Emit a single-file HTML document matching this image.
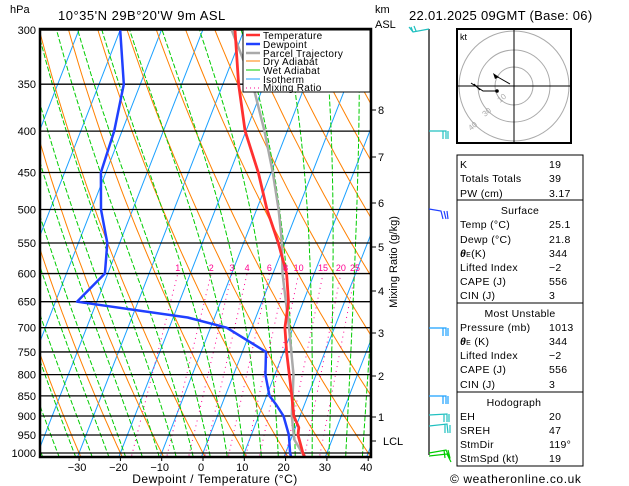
<!DOCTYPE html>
<html><head><meta charset="utf-8"><style>
body{margin:0;background:#fff;}
svg{display:block;font-family:"Liberation Sans",sans-serif;}
</style></head><body>
<svg id="c" width="629" height="486" viewBox="0 0 629 486" xmlns="http://www.w3.org/2000/svg">
<defs><clipPath id="plotclip"><rect x="40" y="29" width="331" height="428"/></clipPath></defs>
<g id="grid" clip-path="url(#plotclip)"></g>
<g id="series" clip-path="url(#plotclip)"></g>
<g id="axes"></g>
</svg>
<script>
const pressureTicks=[300,350,400,450,500,550,600,650,700,750,800,850,900,950,1000];
const tempTicks=[-30,-20,-10,0,10,20,30,40];
const tempP=[1013,1000,950,930,900,850,800,750,700,650,600,550,500,450,400,350,300];
const tempT=[25.1,24.2,21.3,20.8,18.5,16.1,13.5,10.7,8.0,6.4,3.3,-1.6,-7.5,-13.1,-20.2,-26.2,-32.2];
const dewP=[1013,1000,950,900,870,850,800,750,700,680,650,600,550,500,450,400,350,300];
const dewT=[21.8,21.1,19.1,16.0,13.0,10.7,7.7,5.7,-6.1,-16.5,-44.8,-40.7,-43,-47.7,-51.2,-51.9,-54,-60];
const parcelP=[1013,962,900,850,800,700,600,550,500,450,400,350,300];
const parcelT=[25.1,20.8,18.0,16.3,14.5,9.0,2.3,-0.7,-4.7,-9.6,-15.5,-22.8,-33];
const mixRatios=[1,2,3,4,6,8,10,15,20,25];
const kmLabels=["8","7","6","5","4","3","2","1","LCL"];
const kmY=[110,157,203,247,291,333,376,417,441];

const NS="http://www.w3.org/2000/svg";
function yP(p){return 453-351.3*Math.log(1000/p);}
function xT(t,p){return 203+4.13*t+0.39*(453-yP(p));}
function mk(tag,attrs,parent){const e=document.createElementNS(NS,tag);for(const k in attrs)e.setAttribute(k,attrs[k]);parent.appendChild(e);return e;}
const svg=document.getElementById('c');
const grid=document.getElementById('grid'),ser=document.getElementById('series'),ax=document.getElementById('axes');
function poly(pts,st,parent){return mk('polyline',{points:pts.map(q=>q[0].toFixed(1)+','+q[1].toFixed(1)).join(' '),fill:'none',...st},parent);}

// isotherms
for(let t=-110;t<=40;t+=10){
  const l=poly([[xT(t,1050),yP(1050)],[xT(t,280),yP(280)]],{stroke:'#1aa0ff','stroke-width':1},grid);
  
  
}
// dry adiabats
for(let t0=-60;t0<=160;t0+=10){
  const th=t0+273.15,pts=[];
  for(let p=1050;p>=280;p-=10){pts.push([xT(th*Math.pow(p/1000,0.286)-273.15,p),yP(p)]);}
  const l=poly(pts,{stroke:'#ff8000','stroke-width':1},grid);
  
  
}
// moist adiabats
function es(tc){return 6.112*Math.exp(17.67*tc/(tc+243.5));}
function moist(t0,pStart,pEnd){let T=t0+273.15,pts=[];for(let p=pStart;p>=pEnd;p-=2){pts.push([xT(T-273.15,p),yP(p)]);const e=es(T-273.15),rs=0.622*e/(p-e);const dTdp=(287*T+2.5e6*rs)/(p*(1004+2.5e6*2.5e6*rs*0.622/(287*T*T)));T-=dTdp*2;}return pts;}
for(let t0=-40;t0<=40;t0+=4){
  const l=poly(moist(t0,1050,280),{stroke:'#00cc00','stroke-width':1,'stroke-dasharray':'5,2'},grid);
  
  
}
// mixing ratio lines
function tdw(w,p){const e=w*p/(622+w),l=Math.log(e/6.112);return 243.5*l/(17.67-l);}
mixRatios.forEach(w=>{
  const l=poly([[xT(tdw(w,1050),1050),yP(1050)],[xT(tdw(w,600),600),yP(600)]],{stroke:'#ff0090','stroke-width':1,'stroke-dasharray':'1,4'},grid);
  
  
  const tx=mk('text',{x:xT(tdw(w,600),600),y:271,'font-size':9,fill:'#ff0090','text-anchor':'middle'},ax);tx.textContent=w;
  
  
});
// isobars
pressureTicks.forEach(p=>{
  const l=mk('line',{x1:40,x2:371,y1:yP(p),y2:yP(p),stroke:'#000','stroke-width':1.3},grid);
  
  
  const t=mk('text',{x:36,y:yP(p)+4,'font-size':11,'text-anchor':'end',fill:'#000'},ax);t.textContent=p;
  
  
});
// series
function series(P,T,color,w,name){
  const l=poly(P.map((p,i)=>[xT(T[i],p),yP(p)]),{stroke:color,'stroke-width':w,'stroke-linejoin':'round'},ser);
  
  
}
series(parcelP,parcelT,'#aaaaaa',2.5,'parcel-trajectory');
series(tempP,tempT,'#ff3030',2.8,'temperature-line');
series(dewP,dewT,'#2040ff',2.5,'dewpoint-line');

// frame
const fr=mk('rect',{x:40,y:29,width:331,height:428,fill:'none',stroke:'#000','stroke-width':2.5},ax);

// temp ticks
tempTicks.forEach(t=>{
  const x=203+4.13*t;
  mk('line',{x1:x,x2:x,y1:457,y2:461,stroke:'#000'},ax);
  const tx=mk('text',{x:x-2,y:471,'font-size':11,'text-anchor':'middle'},ax);tx.textContent=(t<0?'\u2212'+(-t):t);
  
  
});
// km ticks
kmLabels.forEach((k,i)=>{
  mk('line',{x1:371,x2:376,y1:kmY[i],y2:kmY[i],stroke:'#000'},ax);
  const tx=mk('text',{x:k==='LCL'?383:378,y:kmY[i]+4,'font-size':11},ax);tx.textContent=k;
  
  
});
</script>
<svg width="629" height="486" style="position:absolute;left:0;top:0" font-family="Liberation Sans, sans-serif">
  <text x="10" y="13" font-size="11">hPa</text>
  <text x="58" y="20" font-size="13" letter-spacing="0.5">10°35'N  29B°20'W  9m  ASL</text>
  <text x="375" y="13" font-size="11">km</text>
  <text x="375" y="28" font-size="11">ASL</text>
  <text x="409" y="20" font-size="13" letter-spacing="0.3">22.01.2025  09GMT  (Base: 06)</text>
  <text x="215" y="483" font-size="12" text-anchor="middle" letter-spacing="0.5">Dewpoint / Temperature (°C)</text>
  <text transform="translate(397,262) rotate(-90)" font-size="11" text-anchor="middle">Mixing Ratio (g/kg)</text>
  <g>
    <rect x="243" y="30" width="127" height="62" fill="#fff" stroke="#000" stroke-width="1"/>
    <g font-size="10" letter-spacing="0.3">
      <line x1="246" y1="35" x2="260" y2="35" stroke="#ff3030" stroke-width="2.5"/><text x="263" y="39">Temperature</text>
      <line x1="246" y1="44" x2="260" y2="44" stroke="#2040ff" stroke-width="2.5"/><text x="263" y="48">Dewpoint</text>
      <line x1="246" y1="53" x2="260" y2="53" stroke="#aaa" stroke-width="2.5"/><text x="263" y="57">Parcel Trajectory</text>
      <line x1="246" y1="61" x2="260" y2="61" stroke="#ff8000"/><text x="263" y="65">Dry Adiabat</text>
      <line x1="246" y1="70" x2="260" y2="70" stroke="#00cc00"/><text x="263" y="74">Wet Adiabat</text>
      <line x1="246" y1="79" x2="260" y2="79" stroke="#1aa0ff"/><text x="263" y="83">Isotherm</text>
      <line x1="246" y1="88" x2="260" y2="88" stroke="#ff0090" stroke-dasharray="1,3"/><text x="263" y="91">Mixing Ratio</text>
    </g>
  </g>
  <g stroke-width="1.2" fill="none">
    <line x1="429" y1="29" x2="429" y2="455" stroke="#000"/>
    <path d="M429 29 L413 32 L409 27 M413 32 L411 27 M416 31 L414 26" stroke="#20c0c0"/>
    <path d="M429 131 L446 131 L446 139 M443 131 L443 139 M448 131 L448 139" stroke="#20c0c0"/>
    <path d="M429 209 L441 211 L443 219 M444 211 L446 219 M447 211 L448 219" stroke="#2040ff"/>
    <path d="M429 328 L446 328 L446 336 M443 328 L443 336 M448 328 L448 336" stroke="#1aa0ff"/>
    <path d="M429 396 L446 396 L446 404 M443 396 L443 404 M448 396 L448 404" stroke="#1aa0ff"/>
    <path d="M429 415 L447 414 L447 422 M444 414 L444 422 M449 414 L449 422" stroke="#20c0c0"/>
    <path d="M429 426 L447 424 L448 433 M445 424 L445 433 M450 425 L450 433" stroke="#20c0c0"/>
    <path d="M429 453 L446 450 L450 459 M444 450 L445 458 M448 450 L450 458" stroke="#00cc00"/>
    <path d="M429 456 L447 454 L451 462" stroke="#00cc00"/>
  </g>
  <g>
    <rect x="457" y="29" width="114" height="114" fill="#fff" stroke="#000" stroke-width="2"/>
    <g fill="none" stroke="#aaa">
      <circle cx="514" cy="86" r="19"/><circle cx="514" cy="86" r="36"/><circle cx="514" cy="86" r="55"/>
    </g>
    <line x1="458" y1="86" x2="570" y2="86" stroke="#000"/>
    <line x1="514" y1="30" x2="514" y2="142" stroke="#000"/>
    <text x="460" y="40" font-size="9">kt</text>
    <path d="M497 91 L483 91 L471 83 M474 84 L480 90 M497 91 L496 91" stroke="#000" fill="none"/>
    <path d="M510 84 L496 76" stroke="#000"/>
    <path d="M493 73 L499 77 L495 79 Z" fill="#000"/>
    <circle cx="497" cy="91" r="1.8" fill="#000"/>
    <g font-size="8" fill="#aaa"><text x="500" y="103" transform="rotate(-40 500 103)">10</text><text x="485" y="117" transform="rotate(-40 485 117)">30</text><text x="471" y="131" transform="rotate(-40 471 131)">40</text></g>
  </g>
  <g font-size="10.5" letter-spacing="0.3">
    <rect x="457" y="155" width="126" height="45" fill="none" stroke="#000"/>
    <rect x="457" y="200" width="126" height="103" fill="none" stroke="#000"/>
    <rect x="457" y="303" width="126" height="89" fill="none" stroke="#000"/>
    <rect x="457" y="392" width="126" height="74" fill="none" stroke="#000"/>
    <text x="460" y="168">K</text><text x="549" y="168">19</text>
    <text x="460" y="182">Totals Totals</text><text x="549" y="182">39</text>
    <text x="460" y="197">PW (cm)</text><text x="549" y="197">3.17</text>
    <text x="520" y="214" text-anchor="middle">Surface</text>
    <text x="460" y="228">Temp (°C)</text><text x="549" y="228">25.1</text>
    <text x="460" y="243">Dewp (°C)</text><text x="549" y="243">21.8</text>
    <text x="460" y="257"><tspan font-weight="bold" font-style="italic">θ</tspan><tspan font-size="7">E</tspan>(K)</text><text x="549" y="257">344</text>
    <text x="460" y="271">Lifted Index</text><text x="549" y="271">−2</text>
    <text x="460" y="285">CAPE (J)</text><text x="549" y="285">556</text>
    <text x="460" y="299">CIN (J)</text><text x="549" y="299">3</text>
    <text x="520" y="317" text-anchor="middle">Most Unstable</text>
    <text x="460" y="331">Pressure (mb)</text><text x="549" y="331">1013</text>
    <text x="460" y="345"><tspan font-weight="bold" font-style="italic">θ</tspan><tspan font-size="7">E</tspan> (K)</text><text x="549" y="345">344</text>
    <text x="460" y="359">Lifted Index</text><text x="549" y="359">−2</text>
    <text x="460" y="373">CAPE (J)</text><text x="549" y="373">556</text>
    <text x="460" y="388">CIN (J)</text><text x="549" y="388">3</text>
    <text x="514" y="406" text-anchor="middle">Hodograph</text>
    <text x="460" y="420">EH</text><text x="549" y="420">20</text>
    <text x="460" y="434">SREH</text><text x="549" y="434">47</text>
    <text x="460" y="448">StmDir</text><text x="549" y="448">119°</text>
    <text x="460" y="462">StmSpd (kt)</text><text x="549" y="462">19</text>
  </g>
  <text x="450" y="483" font-size="12" letter-spacing="0.6">© weatheronline.co.uk</text>
</svg>
</body></html>
